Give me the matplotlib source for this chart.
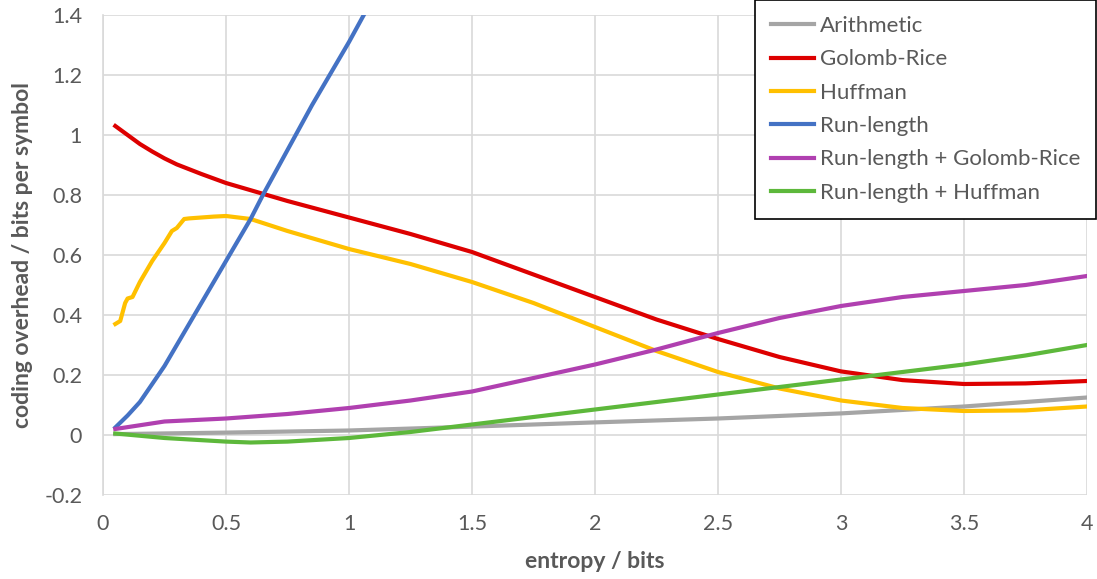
import matplotlib
matplotlib.use("Agg")
import matplotlib.pyplot as plt

# entropy (bits) sample points per series
x_arith = [0.05, 0.5, 1.0, 1.5, 2.0, 2.5, 3.0, 3.5, 4.0]
y_arith = [0.003, 0.008, 0.015, 0.028, 0.042, 0.055, 0.072, 0.095, 0.125]

x_golomb = [0.05, 0.1, 0.15, 0.2, 0.25, 0.3, 0.4, 0.5, 0.75, 1.0, 1.25, 1.5, 1.75,
            2.0, 2.25, 2.5, 2.75, 3.0, 3.25, 3.5, 3.75, 4.0]
y_golomb = [1.03, 1.0, 0.97, 0.945, 0.922, 0.902, 0.87, 0.84, 0.78, 0.725, 0.67, 0.61,
            0.535, 0.46, 0.385, 0.32, 0.26, 0.212, 0.183, 0.17, 0.172, 0.18]

x_huff = [0.05, 0.07, 0.09, 0.1, 0.12, 0.15, 0.2, 0.25, 0.28, 0.3, 0.33, 0.35, 0.4,
          0.45, 0.5, 0.6, 0.75, 1.0, 1.25, 1.5, 1.75, 2.0, 2.25, 2.5, 2.75, 3.0,
          3.25, 3.5, 3.75, 4.0]
y_huff = [0.37, 0.38, 0.44, 0.455, 0.46, 0.51, 0.58, 0.64, 0.68, 0.69, 0.72, 0.722,
          0.725, 0.728, 0.73, 0.72, 0.68, 0.62, 0.57, 0.51, 0.44, 0.36, 0.28, 0.21,
          0.155, 0.115, 0.09, 0.08, 0.082, 0.095]

x_rl = [0.05, 0.1, 0.15, 0.2, 0.25, 0.3, 0.35, 0.4, 0.45, 0.5, 0.55, 0.6, 0.65, 0.7,
        0.75, 0.8, 0.85, 0.9, 0.95, 1.0, 1.05, 1.1]
y_rl = [0.025, 0.065, 0.11, 0.17, 0.23, 0.30, 0.37, 0.44, 0.51, 0.58, 0.65, 0.72,
        0.80, 0.875, 0.95, 1.025, 1.10, 1.17, 1.24, 1.31, 1.385, 1.46]

x_rlgr = [0.05, 0.25, 0.5, 0.75, 1.0, 1.25, 1.5, 1.75, 2.0, 2.25, 2.5, 2.75, 3.0,
          3.25, 3.5, 3.75, 4.0]
y_rlgr = [0.02, 0.045, 0.055, 0.07, 0.09, 0.115, 0.145, 0.19, 0.235, 0.285, 0.34,
          0.39, 0.43, 0.46, 0.48, 0.50, 0.53]

x_rlh = [0.05, 0.25, 0.5, 0.6, 0.75, 1.0, 1.25, 1.5, 1.75, 2.0, 2.25, 2.5, 2.75, 3.0,
         3.25, 3.5, 3.75, 4.0]
y_rlh = [0.005, -0.01, -0.022, -0.025, -0.022, -0.01, 0.01, 0.035, 0.06, 0.085, 0.11,
         0.135, 0.16, 0.185, 0.21, 0.235, 0.265, 0.30]

x_ticks = [0, 0.5, 1, 1.5, 2, 2.5, 3, 3.5, 4]
x_tick_labels = ["0", "0.5", "1", "1.5", "2", "2.5", "3", "3.5", "4"]
y_ticks = [-0.2, 0, 0.2, 0.4, 0.6, 0.8, 1.0, 1.2, 1.4]
y_tick_labels = ["-0.2", "0", "0.2", "0.4", "0.6", "0.8", "1", "1.2", "1.4"]

plt.rcParams['font.family'] = ['Lato', 'DejaVu Sans']
text_color = '#595959'

fig = plt.figure(figsize=(10.97, 5.79), dpi=100)
ax = fig.add_axes([103 / 1097, 1 - 495 / 579, 984 / 1097, 480 / 579])

lw = 3
ax.plot(x_arith, y_arith, color='#A5A5A5', lw=lw, label='Arithmetic')
ax.plot(x_golomb, y_golomb, color='#DD0000', lw=lw, label='Golomb-Rice')
ax.plot(x_huff, y_huff, color='#FFC000', lw=lw, label='Huffman')
ax.plot(x_rl, y_rl, color='#4472C4', lw=lw, label='Run-length')
ax.plot(x_rlgr, y_rlgr, color='#B040B0', lw=lw, label='Run-length + Golomb-Rice')
ax.plot(x_rlh, y_rlh, color='#5DB83B', lw=lw, label='Run-length + Huffman')

ax.set_xlim(0, 4)
ax.set_ylim(-0.2, 1.4)
ax.set_xticks(x_ticks)
ax.set_xticklabels(x_tick_labels)
ax.set_yticks(y_ticks)
ax.set_yticklabels(y_tick_labels)
ax.tick_params(axis='both', length=0, labelsize=15.5, colors=text_color)
ax.tick_params(axis='x', pad=14)
ax.tick_params(axis='y', pad=15)
ax.grid(True, color='#D9D9D9', lw=1.2)
ax.set_axisbelow(True)
for s in ax.spines.values():
    s.set_visible(False)
ax.spines['left'].set_visible(True)
ax.spines['left'].set_color('#D9D9D9')
ax.spines['left'].set_linewidth(1.2)

ax.set_xlabel('entropy / bits', fontsize=16.5, fontweight='bold', color=text_color,
              labelpad=12)
ax.set_ylabel('coding overhead / bits per symbol', fontsize=16.5, fontweight='bold',
              color=text_color, labelpad=8)

leg = ax.legend(loc='upper right', bbox_to_anchor=(1096 / 1097, 1.0),
                bbox_transform=fig.transFigure, fontsize=16, frameon=True,
                fancybox=False, edgecolor='black', framealpha=1,
                handlelength=1.95, handletextpad=0.25, labelspacing=0.6,
                borderpad=0.72, borderaxespad=0)
leg.get_frame().set_linewidth(1.2)
for t in leg.get_texts():
    t.set_color(text_color)

plt.savefig('out.png', dpi=100)
plt.close()
